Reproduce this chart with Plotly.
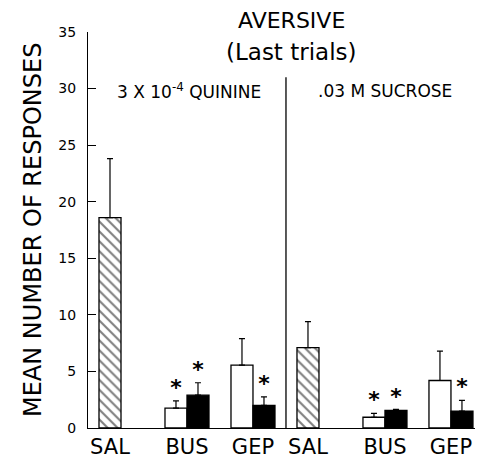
import plotly.graph_objects as go

# ---- data ----
categories = ["SAL", "BUS", "GEP", "SAL", "BUS", "GEP"]
sal_mean = [18.6, 7.1]
sal_err = [5.2, 2.3]
white_mean = [1.75, 5.55, 0.95, 4.2]   # BUS, GEP (quinine), BUS, GEP (sucrose)
white_err = [0.65, 2.35, 0.35, 2.6]
black_mean = [2.9, 2.0, 1.55, 1.5]
black_err = [1.1, 0.75, 0.1, 0.95]
white_star = [True, False, True, False]
black_star = [True, True, True, True]
y_ticks = [0, 5, 10, 15, 20, 25, 30, 35]

# ---- layout positions / style ----
centers = [1, 4.5, 7.5, 10, 13.5, 16.5]
sal_x = [centers[0], centers[3]]
pair_centers = [centers[1], centers[2], centers[4], centers[5]]
white_x = [c - 0.5 for c in pair_centers]
black_x = [c + 0.5 for c in pair_centers]
divider_x = 9
star_gap = 1.0
FONT = "DejaVu Sans"

fig = go.Figure()
eb = dict(type="data", symmetric=False, color="black", thickness=1.2, width=3)

fig.add_trace(go.Bar(
    x=sal_x, y=sal_mean, width=1,
    marker=dict(color="white", line=dict(color="black", width=1.3),
                pattern=dict(shape="\\", fgcolor="black", bgcolor="white", size=7, solidity=0.3)),
    error_y=dict(array=sal_err, arrayminus=[0] * len(sal_err), **eb),
))
fig.add_trace(go.Bar(
    x=white_x, y=white_mean, width=1,
    marker=dict(color="white", line=dict(color="black", width=1.3)),
    error_y=dict(array=white_err, arrayminus=[0] * len(white_err), **eb),
))
fig.add_trace(go.Bar(
    x=black_x, y=black_mean, width=1,
    marker=dict(color="black", line=dict(color="black", width=1.3)),
    error_y=dict(array=black_err, arrayminus=[0] * len(black_err), **eb),
))

# significance stars
sx, sy = [], []
for x, m, e, s in zip(white_x, white_mean, white_err, white_star):
    if s:
        sx.append(x); sy.append(m + e + star_gap)
for x, m, e, s in zip(black_x, black_mean, black_err, black_star):
    if s:
        sx.append(x); sy.append(m + e + star_gap)
fig.add_trace(go.Scatter(
    x=sx, y=sy, mode="text", text=["*"] * len(sx), textposition="middle center",
    textfont=dict(family="DejaVu Sans", size=22, color="black", weight="bold"),
))

fig.add_shape(type="line", xref="x", yref="y", x0=divider_x, x1=divider_x, y0=0, y1=31,
              line=dict(color="black", width=1.3))

fig.add_annotation(x=0.519, y=1.030, xref="paper", yref="paper", text="AVERSIVE", showarrow=False,
                   xanchor="center", yanchor="middle",
                   font=dict(family=FONT, size=22, color="black"))
fig.add_annotation(x=0.519, y=0.950, xref="paper", yref="paper", text="(Last trials)", showarrow=False,
                   xanchor="center", yanchor="middle",
                   font=dict(family=FONT, size=23, color="black"))
fig.add_annotation(x=4.6, y=29.8, xref="x", yref="y",
                   text="3 X 10<sup>-4</sup> QUININE", showarrow=False,
                   font=dict(family=FONT, size=17, color="black"))
fig.add_annotation(x=13.5, y=29.8, xref="x", yref="y", text=".03 M SUCROSE", showarrow=False,
                   font=dict(family=FONT, size=17, color="black"))
fig.add_annotation(x=0, y=0.5, xref="paper", yref="paper", text="MEAN NUMBER OF RESPONSES",
                   showarrow=False, textangle=-90, xanchor="center", yanchor="middle", xshift=-55,
                   font=dict(family=FONT, size=24, color="black"))

fig.update_layout(
    width=475, height=454,
    margin=dict(l=80, r=3, t=24, b=32),
    paper_bgcolor="white", plot_bgcolor="white",
    showlegend=False, barmode="overlay",
    font=dict(family=FONT, color="black"),
)
fig.update_xaxes(
    range=[0, 17.82], showgrid=False, zeroline=False,
    showline=True, linecolor="black", linewidth=1.3,
    tickvals=centers, ticktext=categories, ticks="", ticklen=0,
    tickfont=dict(family=FONT, size=21, color="black"),
)
fig.update_yaxes(
    range=[0, 35], showgrid=False, zeroline=False,
    showline=True, linecolor="black", linewidth=1.3,
    tickvals=y_ticks, ticks="inside", ticklen=8, tickcolor="black", tickwidth=1.2,
    ticklabelstandoff=8,
    tickfont=dict(family=FONT, size=14, color="black"),
)

fig.write_html("out.html")
